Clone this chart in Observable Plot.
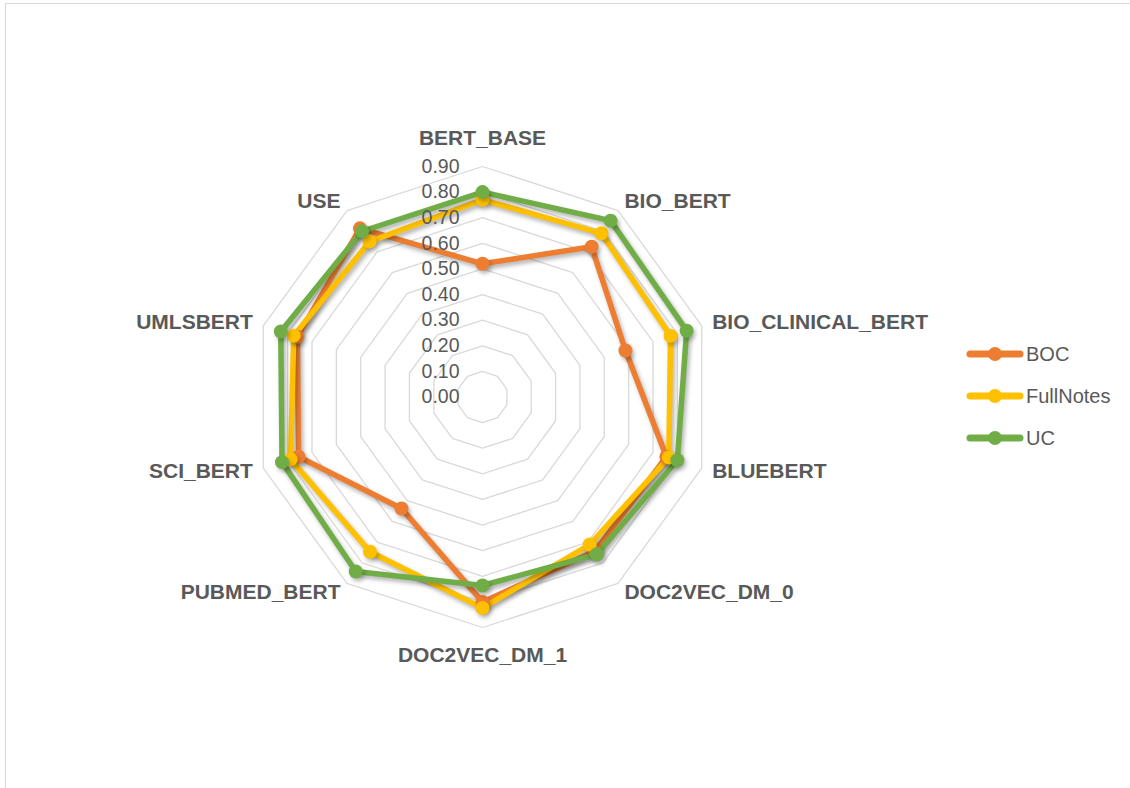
<!DOCTYPE html>
<html>
<head>
<meta charset="utf-8">
<script src="https://cdn.jsdelivr.net/npm/d3@7"></script>
<script src="https://cdn.jsdelivr.net/npm/@observablehq/plot@0.6"></script>
<style>
  html, body { margin: 0; padding: 0; background: #fff; }
  #page { position: relative; width: 1130px; height: 788px; overflow: hidden; font-family: "Liberation Sans", Arial, sans-serif; }
  #frame { position: absolute; left: 5px; top: 3px; width: 1300px; height: 1000px; border: 1.5px solid #d9d9d9; box-sizing: border-box; }
  #chart { position: absolute; left: 0; top: 0; }
  #legend { position: absolute; left: 966px; top: 333px; }
  .item { display: flex; align-items: center; height: 42px; color: #595959; font-size: 20px; }
  .item svg { margin-right: 2px; }
</style>
</head>
<body>
<div id="page">
  <div id="frame"></div>
  <div id="chart"></div>
  <div id="legend"></div>
</div>
<script>
// ---- data ----
const axes = ["BERT_BASE", "BIO_BERT", "BIO_CLINICAL_BERT", "BLUEBERT", "DOC2VEC_DM_0",
              "DOC2VEC_DM_1", "PUBMED_BERT", "SCI_BERT", "UMLSBERT", "USE"];
const seriesNames = ["BOC", "FullNotes", "UC"];
const BOC       = [0.52, 0.725, 0.587, 0.755, 0.745, 0.80, 0.538, 0.755, 0.76, 0.814];
const FullNotes = [0.77, 0.79, 0.772, 0.765, 0.712, 0.824, 0.747, 0.788, 0.775, 0.75];
const UC        = [0.80, 0.851, 0.838, 0.80, 0.759, 0.736, 0.842, 0.823, 0.828, 0.80];
const tickValues = [0.0, 0.1, 0.2, 0.3, 0.4, 0.5, 0.6, 0.7, 0.8, 0.9];
const colors = ["#ED7D31", "#FFC000", "#70AD47"];

// ---- layout ----
const W = 1130, H = 788;
const cx = 482, cy = 396.5;          // centre in pixels
const k = 230.5 / 0.9;               // pixels per unit
const rMax = 0.9;

const n = axes.length;
const ang = i => (i * 2 * Math.PI) / n;
const px = (v, i) => v * Math.sin(ang(i));
const py = (v, i) => v * Math.cos(ang(i));

const seriesValues = [BOC, FullNotes, UC];
const rows = [];
seriesNames.forEach((s, si) => {
  seriesValues[si].forEach((v, i) => rows.push({series: s, axis: axes[i], value: v, x: px(v, i), y: py(v, i)}));
});

const rings = [];
tickValues.filter(t => t > 0).forEach(t => {
  axes.forEach((a, i) => rings.push({level: t, x: px(t, i), y: py(t, i)}));
});

const labels = axes.map((a, i) => {
  const s = Math.sin(ang(i));
  const vertical = Math.abs(s) < 0.01;
  const r = rMax + (vertical ? 28 : 11) / k;
  return {
    axis: a,
    x: px(r, i), y: py(r, i),
    anchor: vertical ? "middle" : (s > 0 ? "start" : "end")
  };
});

const ticks = tickValues.map(t => ({t, label: t.toFixed(2)}));

const chart = Plot.plot({
  width: W, height: H,
  margin: 0,
  x: {domain: [-cx / k, (W - cx) / k], axis: null},
  y: {domain: [-(H - cy) / k, cy / k], axis: null},
  style: {background: "transparent", fontFamily: "'Liberation Sans', Arial, sans-serif"},
  marks: [
    Plot.line(rings, {x: "x", y: "y", z: "level", curve: "linear-closed", stroke: "#d9d9d9", strokeWidth: 1.3}),
    ...seriesNames.map((s, si) => Plot.line(rows.filter(d => d.series === s), {
      x: "x", y: "y", curve: "linear-closed", stroke: colors[si], strokeWidth: 5.5, strokeLinejoin: "round"
    })),
    ...seriesNames.map((s, si) => Plot.dot(rows.filter(d => d.series === s), {
      x: "x", y: "y", r: 7, fill: colors[si], stroke: "none"
    })),
    Plot.text(ticks, {x: () => 0, y: "t", text: "label", textAnchor: "end", dx: -23, fontSize: 19.5, fill: "#595959"}),
    ...["start", "middle", "end"].map(anc => Plot.text(labels.filter(d => d.anchor === anc), {
      x: "x", y: "y", text: "axis", textAnchor: anc, fontSize: 21, fontWeight: "bold", fill: "#595959"
    }))
  ]
});

// subtle shadow on series (like the original chart)
d3.select(chart).selectAll('g[aria-label="line"]').each(function(d, i) {
  if (i > 0) d3.select(this).style("filter", "drop-shadow(2px 3px 2px rgba(0,0,0,0.30))");
});
d3.select(chart).selectAll('g[aria-label="dot"]').style("filter", "drop-shadow(2px 3px 2px rgba(0,0,0,0.25))");

document.getElementById("chart").appendChild(chart);

// legend
const legend = document.getElementById("legend");
seriesNames.forEach((s, si) => {
  const item = document.createElement("div");
  item.className = "item";
  item.innerHTML = `<svg width="58" height="20"><line x1="4" y1="10" x2="54" y2="10" stroke="${colors[si]}" stroke-width="7" stroke-linecap="round"/><circle cx="29" cy="10" r="7" fill="${colors[si]}"/></svg><span>${s}</span>`;
  legend.appendChild(item);
});
</script>
</body>
</html>
